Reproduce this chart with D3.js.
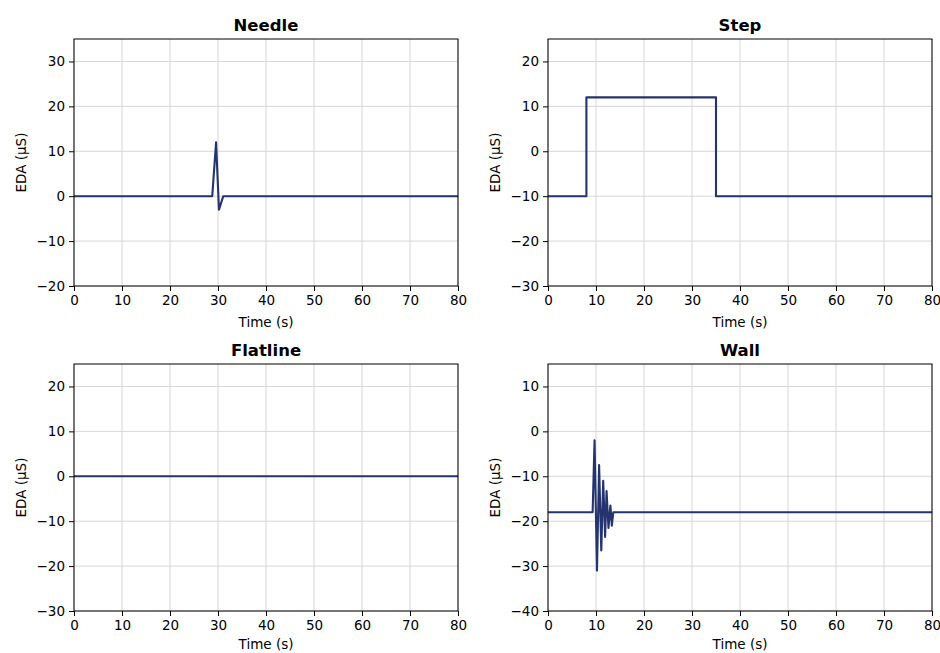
<!DOCTYPE html>
<html>
<head>
<meta charset="utf-8">
<script src="https://cdn.jsdelivr.net/npm/d3@7"></script>
<style>
  body { margin: 0; background: #fff; }
  text { font-family: "DejaVu Sans", sans-serif; fill: #000; }
</style>
</head>
<body>
<svg id="chart" width="940" height="653"></svg>
<script>
// data
const needleTime = [0, 28.8, 29.6, 30.2, 31.1, 80];
const needleEda  = [0, 0, 12, -3, 0, 0];

const stepTime = [0, 8, 8, 35, 35, 80];
const stepEda  = [-10, -10, 12, 12, -10, -10];

const flatTime = [0, 80];
const flatEda  = [0, 0];

const wallTime = [0, 9.3, 9.7, 10.2, 10.65, 11.1, 11.5, 11.9, 12.2, 12.6, 13.0, 13.3, 13.6, 80];
const wallEda  = [-18, -18, -2, -31, -7.5, -26.5, -11, -23.5, -13.3, -21.5, -16.5, -21, -18, -18];

const xTicks = [0, 10, 20, 30, 40, 50, 60, 70, 80];
const needleTicks = [-20, -10, 0, 10, 20, 30];
const stepTicks = [-30, -20, -10, 0, 10, 20];
const flatTicks = [-30, -20, -10, 0, 10, 20];
const wallTicks = [-40, -30, -20, -10, 0, 10];

const panels = [
  {title: "Needle",   t: needleTime, v: needleEda, ydom: [-20, 35], yt: needleTicks, x0: 74,  y0: 39,  lab: 41},
  {title: "Step",     t: stepTime,   v: stepEda,   ydom: [-30, 25], yt: stepTicks,   x0: 548, y0: 39,  lab: 41},
  {title: "Flatline", t: flatTime,   v: flatEda,   ydom: [-30, 25], yt: flatTicks,   x0: 74,  y0: 364, lab: 38},
  {title: "Wall",     t: wallTime,   v: wallEda,   ydom: [-40, 15], yt: wallTicks,   x0: 548, y0: 364, lab: 38}
];

const pw = 384, ph = 247;
const svg = d3.select("#chart");

panels.forEach(function(p){
  var g = svg.append("g").attr("transform", "translate(" + p.x0 + "," + p.y0 + ")");
  var x = d3.scaleLinear().domain([0, 80]).range([0, pw]);
  var y = d3.scaleLinear().domain(p.ydom).range([ph, 0]);

  // grid
  g.append("g").selectAll("line").data(xTicks).enter().append("line")
    .attr("x1", d => x(d)).attr("x2", d => x(d))
    .attr("y1", 0).attr("y2", ph)
    .attr("stroke", "#d6d6d6").attr("stroke-width", 1);
  g.append("g").selectAll("line").data(p.yt).enter().append("line")
    .attr("x1", 0).attr("x2", pw)
    .attr("y1", d => y(d)).attr("y2", d => y(d))
    .attr("stroke", "#d6d6d6").attr("stroke-width", 1);

  // line
  var pts = p.t.map((t, i) => [t, p.v[i]]);
  g.append("path")
    .datum(pts)
    .attr("fill", "none")
    .attr("stroke", "#25346e")
    .attr("stroke-width", 2.1)
    .attr("stroke-linejoin", "round")
    .attr("d", d3.line().x(d => x(d[0])).y(d => y(d[1])));

  // axes
  var xa = g.append("g").attr("transform", "translate(0," + ph + ")")
    .call(d3.axisBottom(x).tickValues(xTicks).tickSize(5).tickPadding(4).tickFormat(d3.format("d")));
  var ya = g.append("g")
    .call(d3.axisLeft(y).tickValues(p.yt).tickSize(5).tickPadding(4).tickFormat(d => d < 0 ? "\u2212" + Math.abs(d) : d));
  [xa, ya].forEach(function(a){
    a.select(".domain").remove();
    a.selectAll("text").style("font-size", "13.5px").style("font-family", "DejaVu Sans");
    a.selectAll("line").attr("stroke", "#000").attr("stroke-width", 1);
  });

  // frame
  g.append("rect").attr("x", 0).attr("y", 0).attr("width", pw).attr("height", ph)
    .attr("fill", "none").attr("stroke", "#000").attr("stroke-width", 1);

  // titles and labels
  g.append("text").attr("x", pw / 2).attr("y", -8)
    .attr("text-anchor", "middle").style("font-size", "16.5px").style("font-weight", "bold")
    .text(p.title);
  g.append("text").attr("x", pw / 2).attr("y", ph + p.lab)
    .attr("text-anchor", "middle").style("font-size", "13.5px")
    .text("Time (s)");
  g.append("text").attr("transform", "translate(-48," + (ph / 2) + ") rotate(-90)")
    .attr("text-anchor", "middle").style("font-size", "13.5px")
    .text("EDA (µS)");
});
</script>
</body>
</html>
